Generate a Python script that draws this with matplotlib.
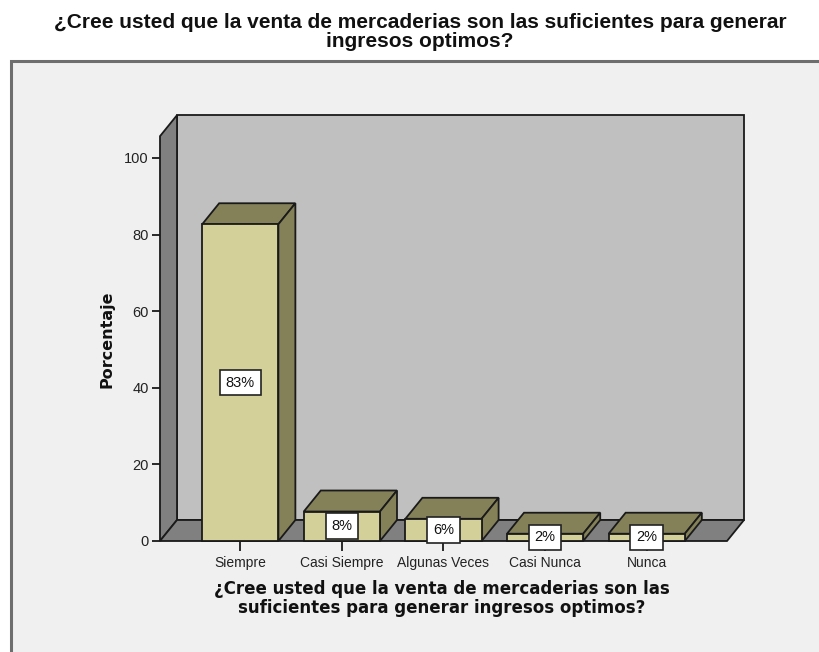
import matplotlib
matplotlib.use("Agg")
import matplotlib.pyplot as plt
from matplotlib.patches import Polygon, Rectangle

# ---- data ----
categories = ["Siempre", "Casi Siempre", "Algunas Veces", "Casi Nunca", "Nunca"]
values = [82.7, 7.7, 5.8, 1.9, 1.9]
value_labels = ["83%", "8%", "6%", "2%", "2%"]
yticks = [0, 20, 40, 60, 80, 100]
title = "¿Cree usted que la venta de mercaderias son las suficientes para generar\ningresos optimos?"
xlabel = "¿Cree usted que la venta de mercaderias son las\nsuficientes para generar ingresos optimos?"
ylabel = "Porcentaje"

# ---- style ----
W, H = 820, 652
FRONT = "#D4D09A"
SHADE = "#848159"
BACKWALL = "#C0C0C0"
SIDEWALL = "#808080"
EDGE = "#1a1a1a"
FRAME_BG = "#F0F0F0"

fig = plt.figure(figsize=(W / 100, H / 100), dpi=100)
fig.patch.set_facecolor("white")

# outer chart frame
fig.patches.append(Rectangle((11 / W, -0.05), 1.2, 1 - 61 / H + 0.05,
                             transform=fig.transFigure, facecolor=FRAME_BG,
                             edgecolor="#6e6e6e", linewidth=2.2, zorder=-5))

# axes = front plane of the 3D box
ax_l, ax_r, ax_b, ax_t = 160, 727, 541, 158
ax = fig.add_axes([ax_l / W, 1 - ax_b / H, (ax_r - ax_l) / W, (ax_b - ax_t) / H])
ax.set_zorder(2)
ax.set_facecolor("none")
x0, x1 = -0.79, 4.79
ax.set_xlim(x0, x1)
ax.set_ylim(0, 100)
for s in ax.spines.values():
    s.set_visible(False)

# depth offsets (pixels -> data units)
px_x = (ax_r - ax_l) / (x1 - x0)
px_y = (ax_b - ax_t) / 100.0
dx = 17 / px_x
dy = 21 / px_y
wall_top = 105.7

lw = 1.3
# back wall
ax.add_patch(Polygon([(x0 + dx, dy), (x1 + dx, dy), (x1 + dx, wall_top + dy), (x0 + dx, wall_top + dy)],
                     closed=True, facecolor=BACKWALL, edgecolor=EDGE, lw=lw, clip_on=False, zorder=1))
# left wall
ax.add_patch(Polygon([(x0, 0), (x0 + dx, dy), (x0 + dx, wall_top + dy), (x0, wall_top)],
                     closed=True, facecolor=SIDEWALL, edgecolor=EDGE, lw=lw, clip_on=False, zorder=2))
# floor
ax.add_patch(Polygon([(x0, 0), (x1, 0), (x1 + dx, dy), (x0 + dx, dy)],
                     closed=True, facecolor=SIDEWALL, edgecolor=EDGE, lw=lw, clip_on=False, zorder=2))

bw = 0.75
for i, (v, lab) in enumerate(zip(values, value_labels)):
    l, r = i - bw / 2, i + bw / 2
    ax.add_patch(Polygon([(l, v), (r, v), (r + dx, v + dy), (l + dx, v + dy)], closed=True,
                         facecolor=SHADE, edgecolor=EDGE, lw=lw, clip_on=False, zorder=3))
    ax.add_patch(Polygon([(r, 0), (r + dx, dy), (r + dx, v + dy), (r, v)], closed=True,
                         facecolor=SHADE, edgecolor=EDGE, lw=lw, clip_on=False, zorder=3))
    ax.add_patch(Rectangle((l, 0), bw, v, facecolor=FRONT, edgecolor=EDGE, lw=lw,
                           clip_on=False, zorder=4))
    ax.text(i, v / 2, lab, ha="center", va="center", fontsize=10.5, family="Liberation Sans",
            color="#111111", zorder=6,
            bbox=dict(boxstyle="square,pad=0.4", facecolor="white", edgecolor="#222222", lw=1.2))

ax.set_yticks(yticks)
ax.set_yticklabels([str(t) for t in yticks], fontsize=10.5, family="Liberation Sans", color="#222222")
ax.set_xticks(range(len(categories)))
ax.set_xticklabels(categories, fontsize=10, family="Liberation Sans", color="#222222")
ax.tick_params(axis="y", direction="out", length=6, width=1.3, color=EDGE, pad=2)
ax.tick_params(axis="x", direction="out", length=7, width=1.3, color=EDGE, pad=4)

ax.set_ylabel(ylabel, fontsize=11.5, fontweight="bold", family="DejaVu Sans", color="#111111")
ax.yaxis.set_label_coords((114 - ax_l) / (ax_r - ax_l), (ax_b - 339) / (ax_b - ax_t))
ax.set_xlabel(xlabel, fontsize=12, fontweight="bold", family="DejaVu Sans", color="#111111",
              linespacing=1.05)
ax.xaxis.set_label_coords((442 - ax_l) / (ax_r - ax_l), -(580 - ax_b) / (ax_b - ax_t))

fig.text(420 / W, 1 - 32 / H, title, ha="center", va="center", fontsize=15,
         fontweight="bold", family="Liberation Sans", color="#111111", linespacing=0.95)

fig.savefig("out.png", dpi=100, facecolor=fig.get_facecolor())
